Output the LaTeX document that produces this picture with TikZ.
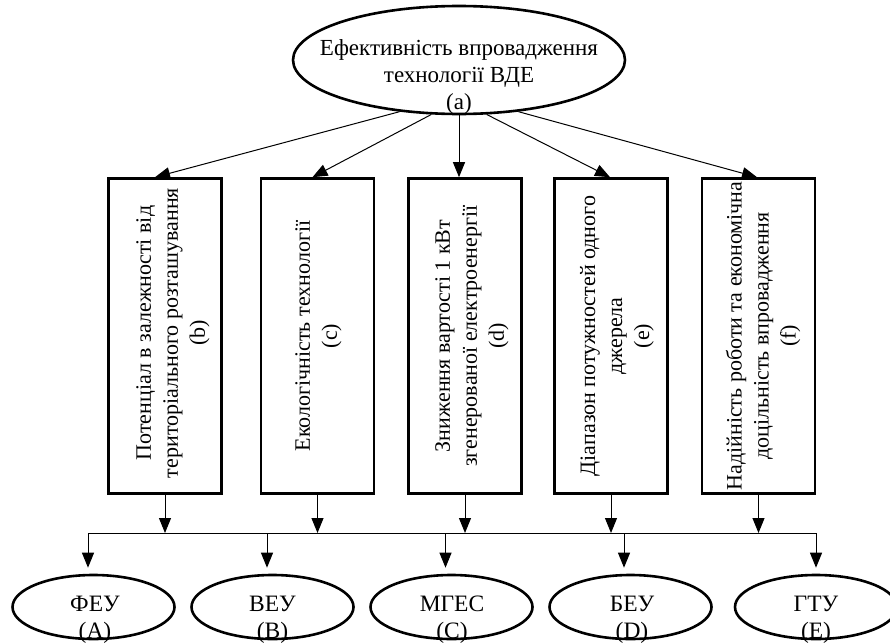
\documentclass[tikz,border=0pt]{standalone}
\usepackage{fontspec}
\setmainfont{Liberation Serif}
\usetikzlibrary{shapes.geometric,arrows.meta}
\begin{document}
\begin{tikzpicture}[x=1pt,y=-1pt,
  bigoval/.style={ellipse,draw,line width=2.6pt,inner sep=0pt,minimum width=332pt,minimum height=108pt},
  smalloval/.style={ellipse,draw,line width=2.6pt,inner sep=0pt,minimum width=162pt,minimum height=64pt},
  factor/.style={rectangle,draw,line width=2.6pt,inner sep=0pt,minimum width=113pt,minimum height=315pt},
  lbl/.style={font=\fontsize{22}{27}\selectfont,align=center,inner sep=0pt},
  toplbl/.style={lbl,font=\fontsize{23}{27}\selectfont},
  botlbl/.style={lbl,font=\fontsize{23.5}{27}\selectfont},
  vlbl/.style={lbl,rotate=90},
  conn/.style={line width=1pt,-{Triangle[length=15pt,width=12pt]}},
  busline/.style={line width=1pt}]
\useasboundingbox (0,0) rectangle (890,642);

% top ellipse
\node[bigoval] (a) at (459,60) {};
\node[toplbl] (at) at (459,77) {Ефективність впровадження\\технології ВДЕ\\(a)};

% factor boxes
\node[factor] (b) at (165,336) {};
\node[factor] (c) at (317.5,336) {};
\node[factor] (d) at (465,336) {};
\node[factor] (e) at (611,336) {};
\node[factor] (f) at (758.5,336) {};

\node[vlbl] (bt) at (173,333) {Потенціал в залежності від\\територіального розташування\\(b)};
\node[vlbl] (ct) at (318.5,336) {Екологічність технології\\(c)};
\node[vlbl] (dt) at (472,336) {Зниження вартості 1 кВт\\згенерованої електроенергії\\(d)};
\node[vlbl] (et) at (617,336) {Діапазон потужностей одного\\джерела\\(e)};
\node[vlbl] (ft) at (763,336) {Надійність роботи та економічна\\доцільність впровадження\\(f)};

% arrows from top ellipse
\draw[conn] (a.221) -- ([xshift=-10pt]b.north);
\draw[conn] (a.243) -- ([xshift=-5pt]c.north);
\draw[conn] (a.270) -- (a.270 |- d.north);
\draw[conn] (a.297) -- ([xshift=-1pt]e.north);
\draw[conn] (a.319) -- ([xshift=-1.5pt]f.north);

% bus
\coordinate (busL) at (88,533);
\coordinate (busR) at (816,533);
\draw[busline] (busL) -- (busR);

\draw[conn] (b.south) -- (b.south |- busL);
\draw[conn] (c.south) -- (c.south |- busL);
\draw[conn] (d.south) -- (d.south |- busL);
\draw[conn] (e.south) -- (e.south |- busL);
\draw[conn] (f.south) -- (f.south |- busL);

% bottom ellipses
\node[smalloval] (A) at (93.5,607) {};
\node[smalloval] (B) at (272.5,607) {};
\node[smalloval] (C) at (451.5,607) {};
\node[smalloval] (D) at (630.5,607) {};
\node[smalloval] (E) at (816,607) {};

\node[botlbl] (At) at (95,620) {ФЕУ\\(A)};
\node[botlbl] (Bt) at (272.5,620) {ВЕУ\\(B)};
\node[botlbl] (Ct) at (452,620) {МГЕС\\(C)};
\node[botlbl] (Dt) at (632,620) {БЕУ\\(D)};
\node[botlbl] (Et) at (816,620) {ГТУ\\(E)};

\coordinate (tA) at (88,533);
\coordinate (tB) at (267,533);
\coordinate (tC) at (445.5,533);
\coordinate (tD) at (624,533);
\coordinate (tE) at (816,533);
\draw[conn,shorten >=6pt] (tA) -- (tA |- A.north);
\draw[conn,shorten >=6pt] (tB) -- (tB |- B.north);
\draw[conn,shorten >=6pt] (tC) -- (tC |- C.north);
\draw[conn,shorten >=6pt] (tD) -- (tD |- D.north);
\draw[conn,shorten >=6pt] (tE) -- (tE |- E.north);
\end{tikzpicture}
\end{document}
